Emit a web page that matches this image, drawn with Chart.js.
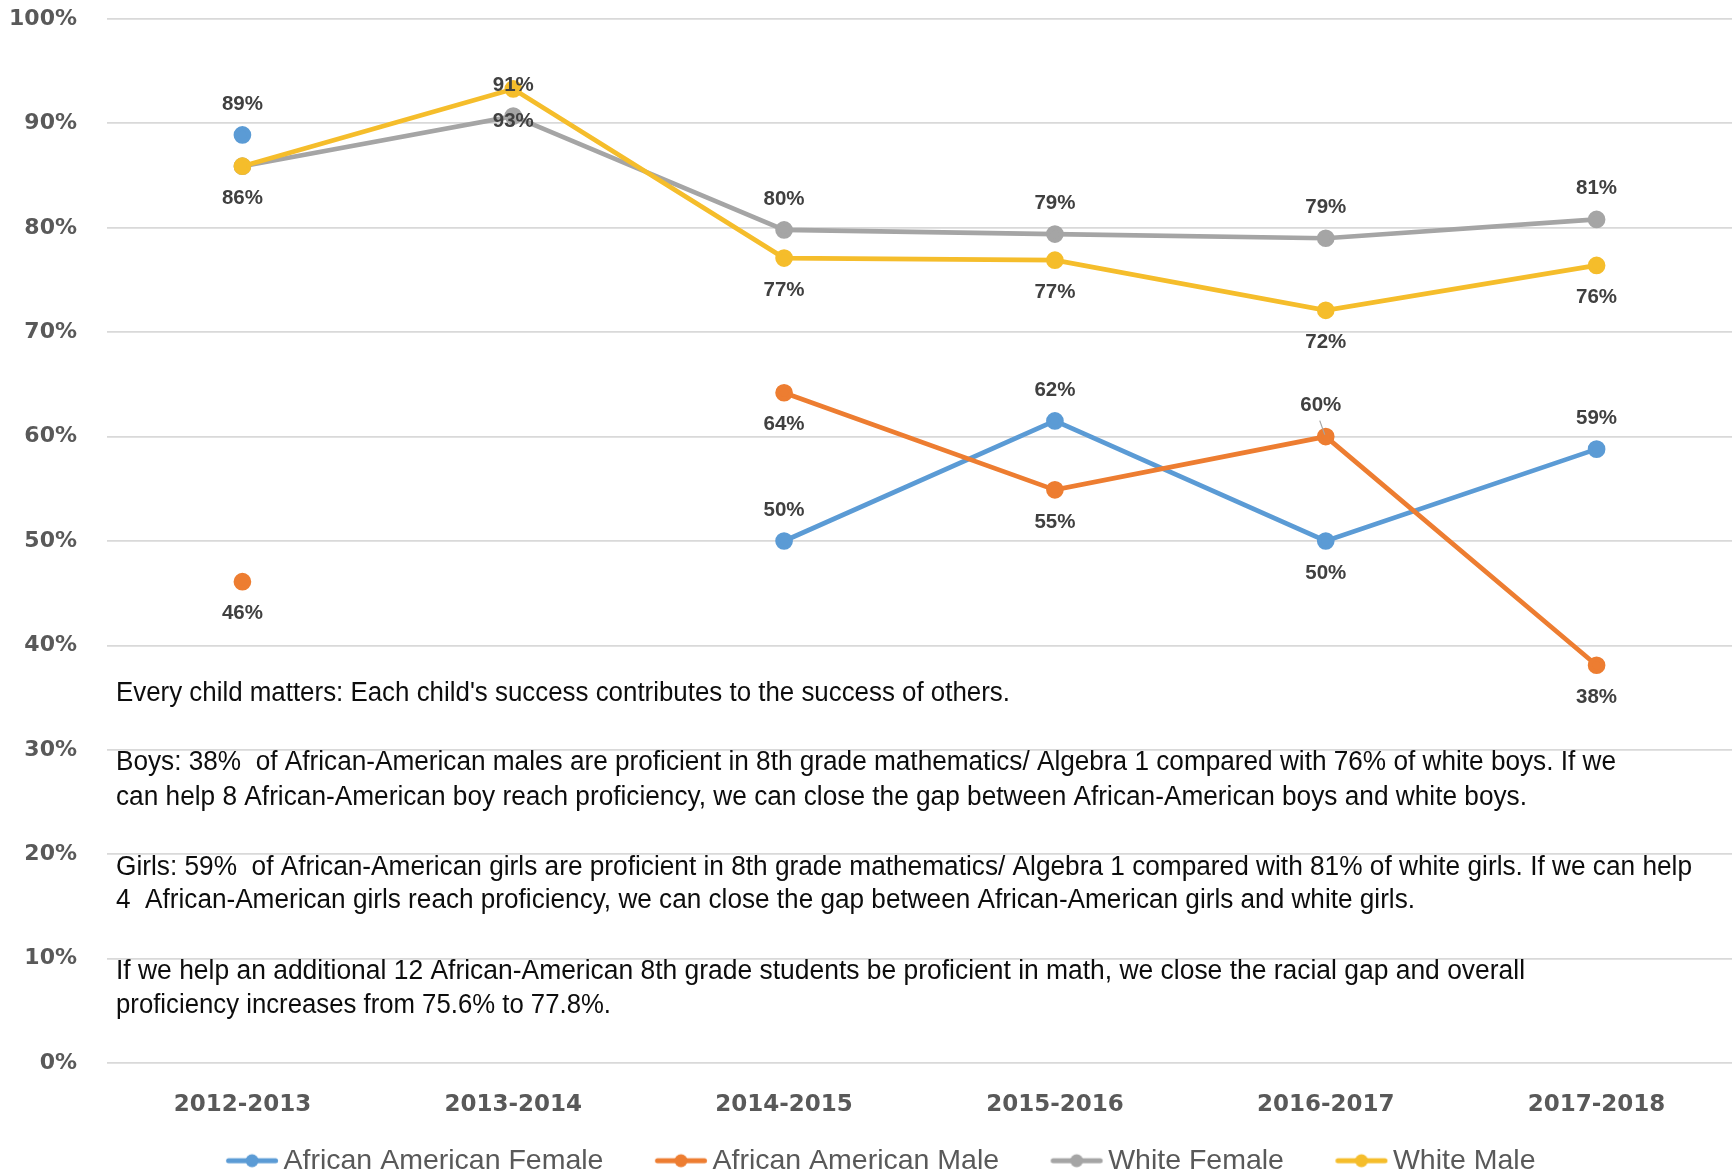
<!DOCTYPE html>
<html><head><meta charset="utf-8">
<script src="https://cdn.jsdelivr.net/npm/chart.js@4.4.1/dist/chart.umd.min.js"></script>
<style>html,body{margin:0;padding:0;background:#fff;overflow:hidden}canvas{display:block}</style>
</head><body><canvas id="c" width="1732" height="1176" style="width:1732px;height:1176px"></canvas>
<script>
// ---------- data ----------
const categories = ['2012-2013', '2013-2014', '2014-2015', '2015-2016', '2016-2017', '2017-2018'];
const seriesNames = ['African American Female', 'African American Male', 'White Female', 'White Male'];
const africanAmericanFemale = [88.9, null, 50.0, 61.5, 50.0, 58.8];
const africanAmericanMale   = [46.1, null, 64.2, 54.9, 60.0, 38.1];
const whiteFemale           = [85.9, 90.7, 79.8, 79.4, 79.0, 80.8];
const whiteMale             = [85.9, 93.3, 77.1, 76.9, 72.1, 76.4];
const yTickValues = [0, 10, 20, 30, 40, 50, 60, 70, 80, 90, 100];
const noteLines = [
  "Every child matters: Each child's success contributes to the success of others.",
  "Boys: 38%  of African-American males are proficient in 8th grade mathematics/ Algebra 1 compared with 76% of white boys. If we",
  "can help 8 African-American boy reach proficiency, we can close the gap between African-American boys and white boys.",
  "Girls: 59%  of African-American girls are proficient in 8th grade mathematics/ Algebra 1 compared with 81% of white girls. If we can help",
  "4  African-American girls reach proficiency, we can close the gap between African-American girls and white girls.",
  "If we help an additional 12 African-American 8th grade students be proficient in math, we close the racial gap and overall",
  "proficiency increases from 75.6% to 77.8%."
];

// ---------- styles / layout ----------
const colors = ['#5B9BD5', '#ED7D31', '#A5A5A5', '#F5BD2B'];
const labelPositions = [
  ['above', null, 'above', 'above', 'below', 'above'],
  ['below', null, 'below', 'below', 'leader', 'below'],
  [null, 'above', 'above', 'above', 'above', 'above'],
  ['below', 'below', 'below', 'below', 'below', 'below']
];
const noteLayout = { x: 116, y: [694, 763, 797.5, 868, 901, 972, 1006], w: [894, 1500, 1411, 1576, 1299, 1409, 495] };
const PLOT = { left: 107, top: 19, bottom: 1063 };
const LEG = { font: 28.5, pad: 22, markLen: 51, gap: 6, padBottom: -9 };
LEG.boxW = 109 - LEG.font / 2 - LEG.pad;

function legendMarker(color) {
  const fs = LEG.font, B = LEG.boxW;
  const end = B / 2 + fs / 2 - LEG.gap;          // relative to image centre
  const W = Math.ceil(2 * end + 4), H = 16;
  const c = document.createElement('canvas');
  c.width = W; c.height = H;
  const g = c.getContext('2d');
  const e = W / 2 + end, s = e - LEG.markLen;
  g.strokeStyle = color; g.lineWidth = 5; g.lineCap = 'round';
  g.beginPath(); g.moveTo(s + 2, H / 2); g.lineTo(e - 2, H / 2); g.stroke();
  g.fillStyle = color; g.beginPath(); g.arc((s + e) / 2, H / 2, 6.5, 0, Math.PI * 2); g.fill();
  return c;
}

const dataLabelPlugin = {
  id: 'dataLabels',
  afterDatasetsDraw(chart) {
    const ctx = chart.ctx;
    ctx.save();
    ctx.font = 'bold 20.5px "Liberation Sans", Arial, sans-serif';
    ctx.fillStyle = '#404040';
    ctx.textAlign = 'center';
    ctx.textBaseline = 'middle';
    chart.data.datasets.forEach((ds, di) => {
      const meta = chart.getDatasetMeta(di);
      meta.data.forEach((pt, i) => {
        const v = ds.data[i];
        const pos = labelPositions[di][i];
        if (v == null || !pos) return;
        const txt = Math.round(v) + '%';
        if (pos === 'above') ctx.fillText(txt, pt.x, pt.y - 31);
        else if (pos === 'below') ctx.fillText(txt, pt.x, pt.y + 32);
        else if (pos === 'leader') {
          ctx.fillText(txt, pt.x - 5, pt.y - 31);
          ctx.strokeStyle = '#A5A5A5'; ctx.lineWidth = 1.2;
          ctx.beginPath(); ctx.moveTo(pt.x - 6, pt.y - 16); ctx.lineTo(pt.x - 1, pt.y - 2); ctx.stroke();
        }
      });
    });
    ctx.restore();
  }
};

const notesPlugin = {
  id: 'notes',
  afterDatasetsDraw(chart) {
    const ctx = chart.ctx;
    ctx.save();
    ctx.font = '27px "Liberation Sans", Arial, sans-serif';
    ctx.fillStyle = '#0d0d0d';
    ctx.textAlign = 'left';
    ctx.textBaseline = 'middle';
    noteLines.forEach((t, i) => ctx.fillText(t, noteLayout.x, noteLayout.y[i], noteLayout.w[i]));
    ctx.restore();
  }
};

const seriesData = [africanAmericanFemale, africanAmericanMale, whiteFemale, whiteMale];
const datasets = seriesNames.map((name, i) => ({
  label: name,
  data: seriesData[i],
  borderColor: colors[i],
  backgroundColor: colors[i],
  pointBackgroundColor: colors[i],
  pointBorderColor: colors[i],
  borderWidth: 4.7,
  pointRadius: 6.5,
  pointHoverRadius: 6.5,
  tension: 0,
  spanGaps: false,
  order: seriesNames.length - i
}));

new Chart(document.getElementById('c'), {
  type: 'line',
  data: { labels: categories, datasets },
  plugins: [dataLabelPlugin, notesPlugin],
  options: {
    responsive: false,
    animation: false,
    devicePixelRatio: 1,
    layout: { autoPadding: false, padding: { top: PLOT.top, left: 0, right: 0, bottom: LEG.padBottom } },
    plugins: {
      tooltip: { enabled: false },
      legend: {
        position: 'bottom',
        labels: {
          usePointStyle: true,
          pointStyleWidth: LEG.boxW,
          padding: LEG.pad,
          color: '#595959',
          font: { family: '"Liberation Sans", Arial, sans-serif', size: LEG.font },
          generateLabels(chart) {
            return chart.data.datasets.map((ds, i) => ({
              text: ds.label,
              fillStyle: ds.borderColor,
              strokeStyle: ds.borderColor,
              lineWidth: 0,
              pointStyle: legendMarker(ds.borderColor),
              hidden: false,
              datasetIndex: i,
              fontColor: '#595959'
            }));
          }
        }
      }
    },
    scales: {
      x: {
        offset: true,
        grid: { display: false, drawTicks: false },
        border: { display: false },
        ticks: {
          color: '#595959',
          padding: 28.5,
          font: { family: '"DejaVu Sans", sans-serif', weight: 'bold', size: 23 }
        },
        afterFit(scale) {
          scale.paddingLeft = 0; scale.paddingRight = 0;
          scale.height = scale.chart.height - LEG.padBottom - PLOT.bottom - scale.chart.legend.height;
        }
      },
      y: {
        min: 0, max: 100,
        afterBuildTicks(scale) { scale.ticks = yTickValues.map(v => ({ value: v })); },
        grid: { color: '#D9D9D9', lineWidth: 1.8, drawTicks: false },
        border: { display: false },
        ticks: {
          color: '#595959',
          padding: 30,
          font: { family: '"DejaVu Sans", sans-serif', weight: 'bold', size: 22 },
          callback: v => v + '%'
        },
        afterFit(scale) { scale.paddingTop = 0; scale.paddingBottom = 0; scale.width = PLOT.left; }
      }
    }
  }
});
</script></body></html>
